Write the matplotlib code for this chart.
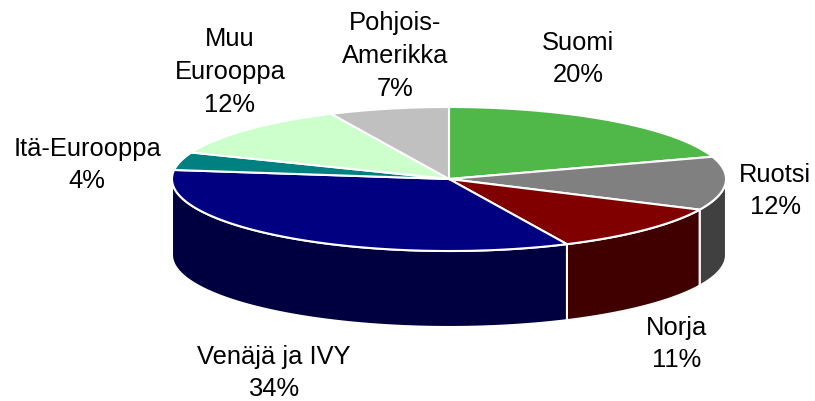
import numpy as np
import matplotlib
matplotlib.use("Agg")
import matplotlib.pyplot as plt

categories = ["Suomi", "Ruotsi", "Norja", "Venäjä ja IVY", "Itä-Eurooppa", "Muu\nEurooppa", "Pohjois-\nAmerikka"]
values = [20, 12, 11, 34, 4, 12, 7]
top_colors = ["#50B848", "#808080", "#800000", "#000080", "#008080", "#CCFFCC", "#C0C0C0"]
side_colors = ["#285C24", "#404040", "#400000", "#000040", "#004040", "#668066", "#606060"]
label_pos = [(578, 59), (775, 191), (677, 344), (274, 373), (87, 165), (230, 72), (395, 56)]

W, H = 815, 401
plt.rcParams["font.family"] = ["Liberation Sans", "DejaVu Sans"]
fig = plt.figure(figsize=(W / 100, H / 100), dpi=100)
ax = fig.add_axes([0, 0, 1, 1])
ax.set_xlim(0, W)
ax.set_ylim(H, 0)
ax.axis("off")

cx, cy, rx, ry, depth = 449, 179, 277, 72, 76

def pt(a):
    a = np.asarray(a)
    return cx + rx * np.sin(a), cy - ry * np.cos(a)

edges = np.cumsum([0] + values) / sum(values) * 2 * np.pi
for i in range(len(values)):
    lo, hi = max(edges[i], np.pi / 2), min(edges[i + 1], 3 * np.pi / 2)
    if lo >= hi:
        continue
    t = np.linspace(lo, hi, 200)
    x, y = pt(t)
    ax.fill(np.r_[x, x[::-1]], np.r_[y, y[::-1] + depth], fc=side_colors[i], ec="white", lw=1.5, zorder=2)
for i in range(len(values)):
    t = np.linspace(edges[i], edges[i + 1], 200)
    x, y = pt(t)
    ax.fill(np.r_[cx, x], np.r_[cy, y], fc=top_colors[i], ec="white", lw=1.5, zorder=3)

for name, v, (lx, ly) in zip(categories, values, label_pos):
    ax.text(lx, ly, f"{name}\n{v}%", ha="center", va="center", fontsize=18.4, color="black", linespacing=1.47, zorder=5)

fig.savefig("out.png", dpi=100, facecolor="white")
